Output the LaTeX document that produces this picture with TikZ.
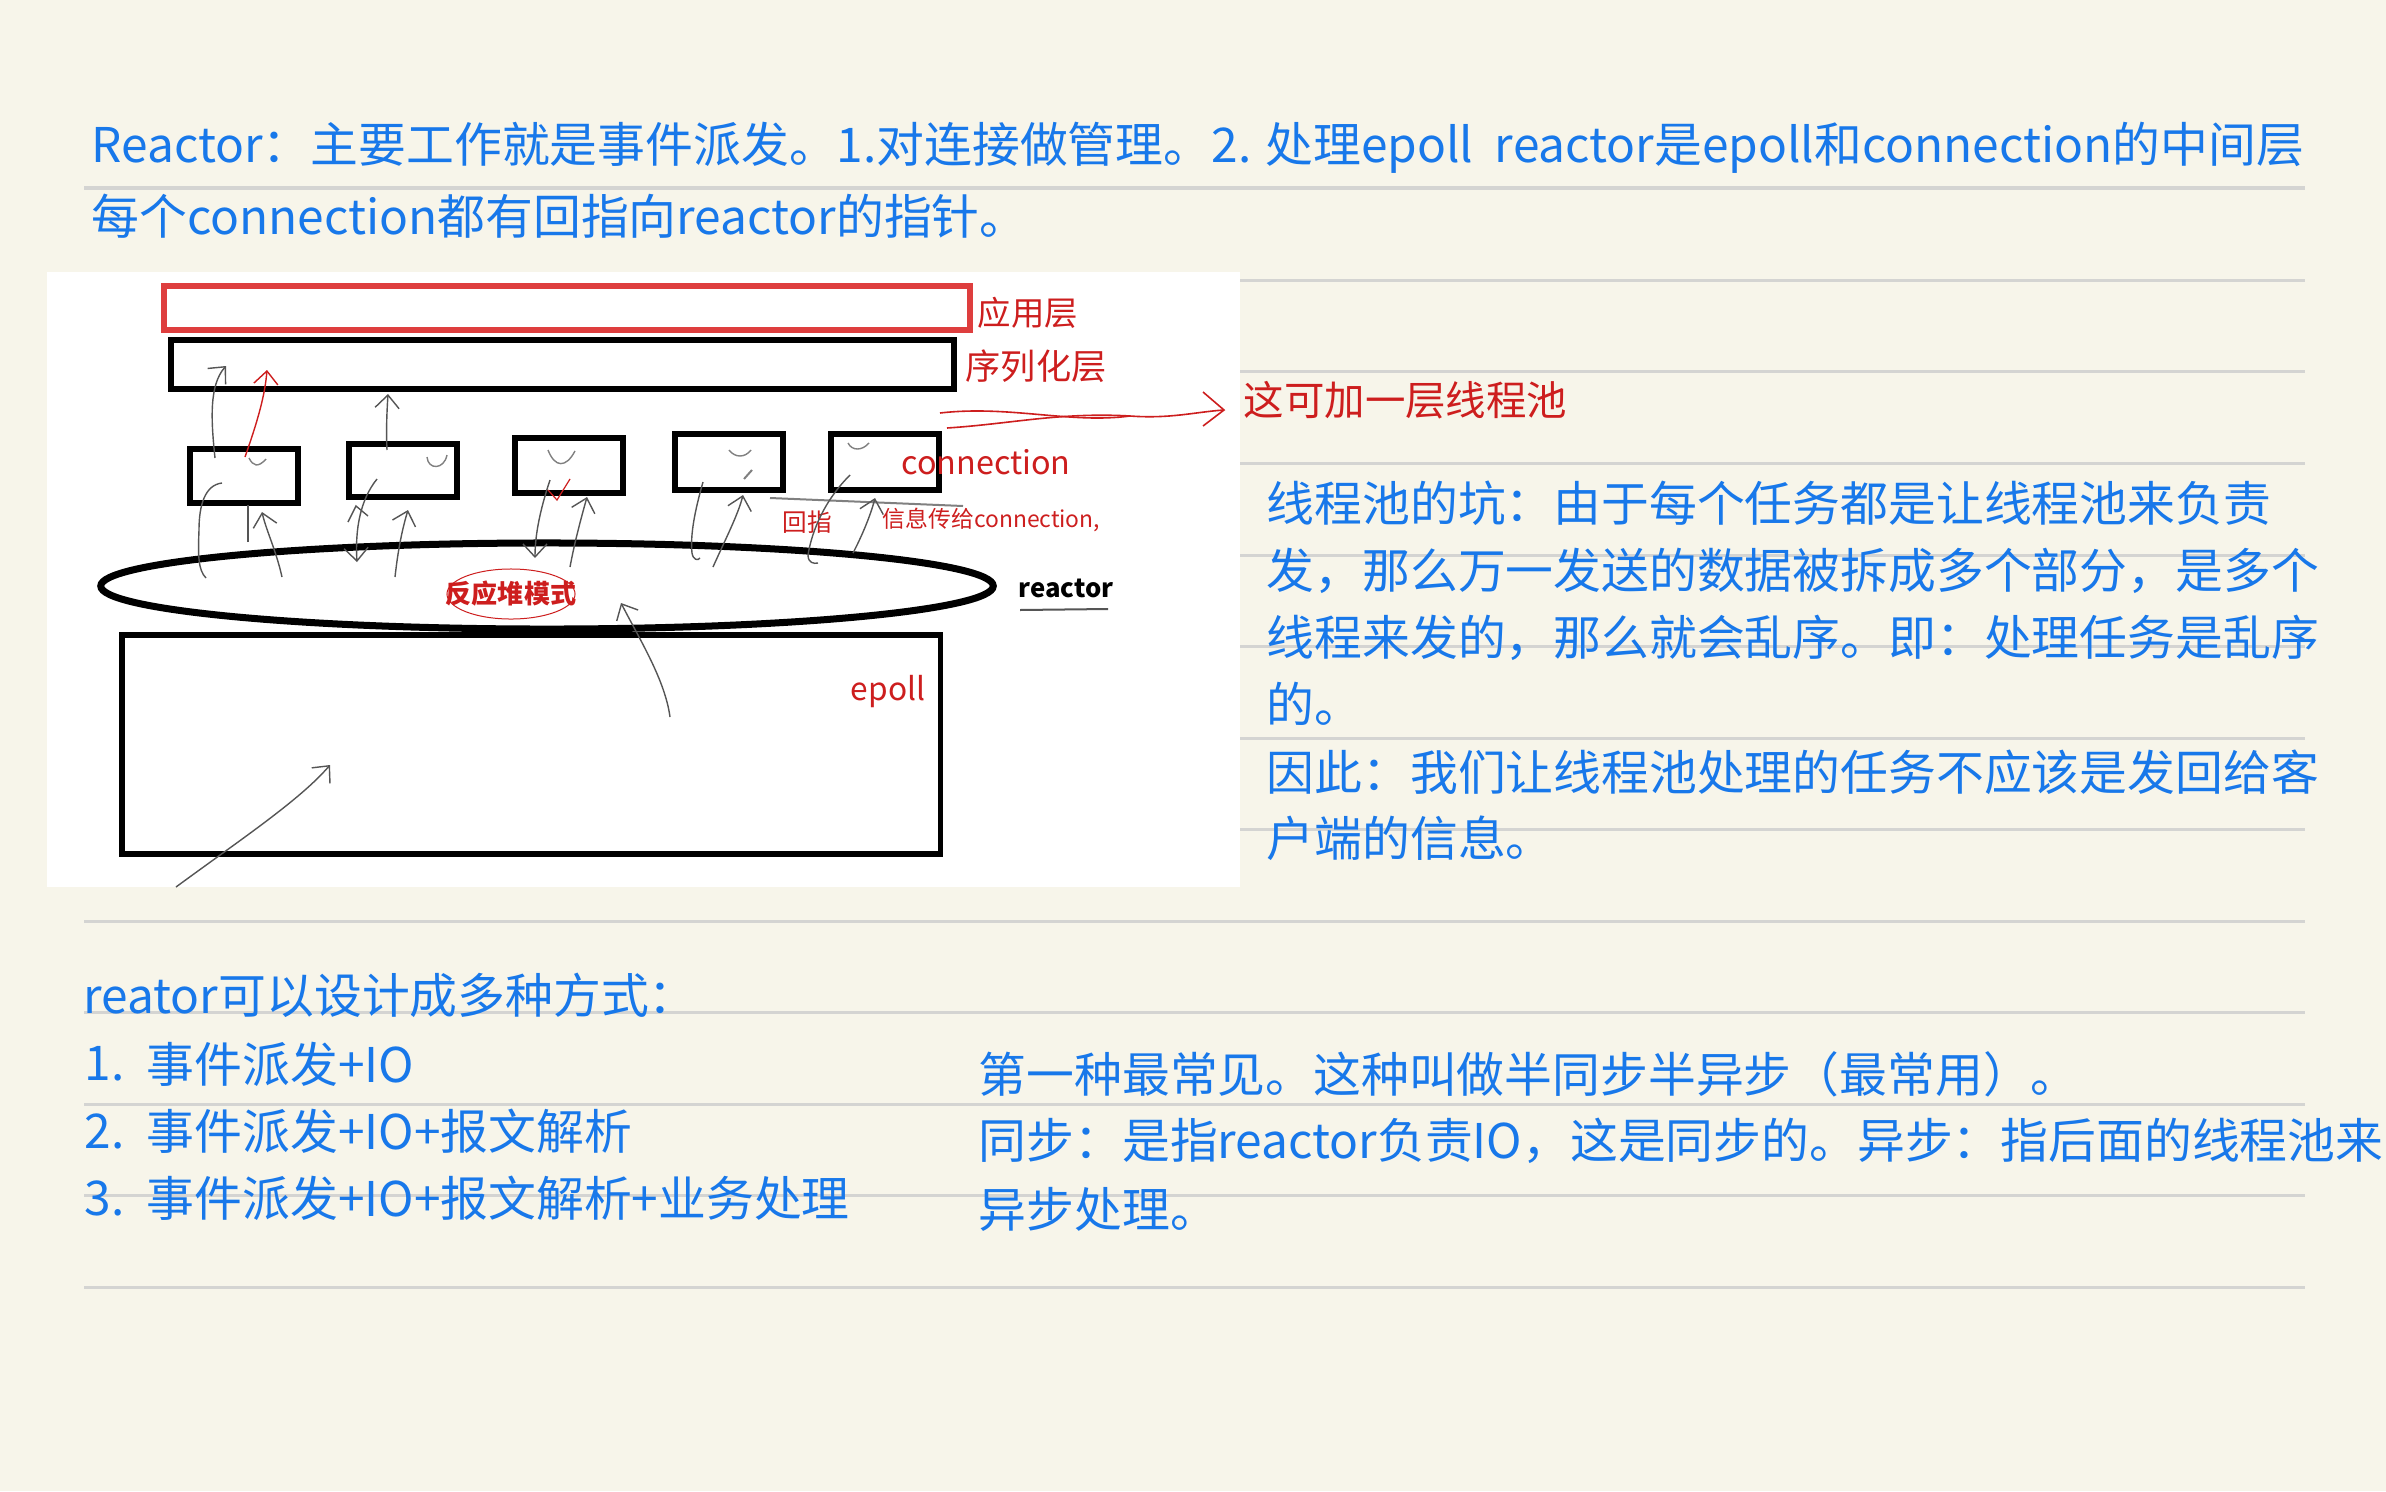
\documentclass[tikz,border=0pt]{standalone}
\usepackage{fontspec}
\setmainfont{Noto Sans CJK SC}
\usetikzlibrary{arrows.meta,shapes.geometric}
\definecolor{bg}{RGB}{247,245,234}
\definecolor{txtblue}{RGB}{24,120,234}
\definecolor{rulegray}{RGB}{212,212,210}
\definecolor{inkred}{RGB}{205,30,30}
\definecolor{boxred}{RGB}{222,62,62}
\definecolor{pencil}{RGB}{85,85,85}
\tikzset{
  bluetext/.style={text=txtblue, anchor=west, inner sep=0pt, font=\fontsize{13.6pt}{16pt}\selectfont},
  ruleline/.style={draw=rulegray, line width=0.03cm},
  layerbox/.style={draw=black, line width=0.055cm, rectangle, inner sep=0pt},
  connbox/.style={draw=black, line width=0.055cm, rectangle, inner sep=0pt, minimum width=1.08cm},
  handtext/.style={text=inkred, inner sep=0pt},
  sketch/.style={draw=pencil, line width=0.014cm},
  sketcharrow/.style={sketch, -{Straight Barb[length=0.13cm,width=0.24cm,line width=0.014cm]}},
  redsketch/.style={draw=inkred, line width=0.014cm, -{Straight Barb[length=0.13cm,width=0.24cm,line width=0.014cm]}},
}
\begin{document}
\begin{tikzpicture}[x=0.01cm,y=-0.01cm]
\useasboundingbox (0,0) rectangle (2386,1491);
\fill[bg] (0,0) rectangle (2386,1491);
% ruled lines
\foreach \yy in {188,280,371.5,463,555,646.5,738,829.5,921,1012.5,1104,1195.5,1287}
  \draw[ruleline] (84,\yy) -- (2305,\yy);
% top text
\node[bluetext] (t1) at (91,148) {Reactor：主要工作就是事件派发。1.对连接做管理。2. 处理epoll\ \ reactor是epoll和connection的中间层};
\node[bluetext] (t2) at (91,216) {每个connection都有回指向reactor的指针。};
% embedded picture background
\fill[white] (47,272) rectangle (1240,887);
% layers
\node[layerbox, draw=boxred, line width=0.06cm, minimum width=8.06cm, minimum height=0.44cm] (app) at (567,308) {};
\node[layerbox, minimum width=7.83cm, minimum height=0.49cm] (ser) at (562.5,364.5) {};
\node[connbox, minimum height=0.54cm] (c1) at (244,476) {};
\node[connbox, minimum height=0.53cm] (c2) at (403,470.5) {};
\node[connbox, minimum height=0.55cm] (c3) at (569,465.5) {};
\node[connbox, minimum height=0.56cm] (c4) at (729,462) {};
\node[connbox, minimum height=0.56cm] (c5) at (885,462) {};
\node[draw=black, line width=0.07cm, ellipse, minimum width=8.92cm, minimum height=0.86cm, inner sep=0pt] (reac) at (547,586) {};
\node[layerbox, minimum width=8.18cm, minimum height=2.19cm] (ep) at (531,744.5) {};
% labels in the sketch
\node[handtext, font=\fontsize{9.5pt}{10pt}\selectfont] (lapp) at (1028,313) {应用层};
\node[handtext, font=\fontsize{10pt}{11pt}\selectfont] (lser) at (1036,366) {序列化层};
\node[handtext, font=\fontsize{9.2pt}{10pt}\selectfont] (lconn) at (986,462) {connection};
\node[handtext, font=\fontsize{7pt}{8pt}\selectfont] (lback) at (807,522) {回指};
\node[handtext, font=\fontsize{6.5pt}{7pt}\selectfont, anchor=west] (linfo) at (882,520) {信息传给connection,};
\node[handtext, font=\fontsize{9pt}{10pt}\selectfont] (lepoll) at (888,692) {epoll};
\node[handtext, font=\fontsize{11.5pt}{12pt}\selectfont, anchor=west] (lpool) at (1243,400) {这可加一层线程池};
\node[text=inkred, inner sep=0pt, font=\fontsize{7.4pt}{8pt}\selectfont\bfseries] (lmode) at (511,594) {反应堆模式};
\draw[inkred, line width=0.01cm] (lmode.center) ellipse [x radius=0.64cm, y radius=0.25cm];
\node[inner sep=0pt, font=\fontsize{7.3pt}{8pt}\selectfont\bfseries] (lreac) at (1066,588) {reactor};
\coordinate (ul1) at (1020,610); \coordinate (ul2) at (1108,609);
\draw[pencil, line width=0.02cm] (ul1) -- (ul2);
% red arrow to thread pool
\coordinate (rs1) at (940,413); \coordinate (rs2) at (947,428);
\coordinate (rm) at (1130,416); \coordinate (rtip) at (1224,410);
\coordinate (rh1) at (1203,392); \coordinate (rh2) at (1203,426);
\draw[inkred, line width=0.016cm] (rs1) .. controls (1010,405) and (1070,424) .. (rm);
\draw[inkred, line width=0.016cm] (rs2) .. controls (1010,424) and (1060,412) .. (rm) .. controls (1170,419) and (1195,412) .. (rtip);
\draw[inkred, line width=0.016cm] (rh1) -- (rtip) -- (rh2);
% gray line under connections
\coordinate (gl1) at (770,498); \coordinate (gl2) at (963,506);
\draw[draw=gray, line width=0.02cm] (gl1) -- (gl2);
% sketch arrows
\coordinate (a1s) at (215,458); \coordinate (a1e) at (226,366);
\draw[sketcharrow] (a1s) .. controls (211,420) and (209,385) .. (a1e);
\coordinate (r1s) at (245,457); \coordinate (r1e) at (267,370);
\draw[redsketch] (r1s) .. controls (258,420) and (265,395) .. (r1e);
\coordinate (a2s) at (387,450); \coordinate (a2e) at (388,394);
\draw[sketcharrow] (a2s) .. controls (386,430) and (387,410) .. (a2e);
\coordinate (a3s) at (222,483); \coordinate (a3e) at (206,578);
\draw[sketch] (a3s) .. controls (205,485) and (199,505) .. (199,530) .. controls (198,555) and (198,570) .. (a3e);
\coordinate (a4s) at (248,542); \coordinate (a4e) at (248,505);
\draw[sketch] (a4s) -- (a4e);
\coordinate (a5s) at (282,577); \coordinate (a5e) at (262,512);
\draw[sketcharrow] (a5s) .. controls (276,550) and (266,530) .. (a5e);
\coordinate (a6s) at (377,479); \coordinate (a6e) at (357,562);
\draw[sketcharrow] (a6s) .. controls (360,500) and (355,530) .. (a6e);
\coordinate (a6m) at (356,506);
\draw[sketch] (348,522) -- (a6m) -- (368,516);
\coordinate (a7s) at (395,577); \coordinate (a7e) at (408,510);
\draw[sketcharrow] (a7s) .. controls (398,550) and (402,530) .. (a7e);
\coordinate (a8s) at (550,480); \coordinate (a8e) at (535,558);
\draw[sketcharrow] (a8s) .. controls (540,510) and (535,535) .. (a8e);
\coordinate (a9s) at (570,567); \coordinate (a9e) at (587,497);
\draw[sketcharrow] (a9s) .. controls (575,540) and (582,515) .. (a9e);
\coordinate (a10s) at (703,482); \coordinate (a10e) at (700,558);
\draw[sketch] (a10s) .. controls (695,510) and (690,535) .. (692,553) .. controls (693,560) and (698,561) .. (a10e);
\coordinate (a11s) at (713,567); \coordinate (a11e) at (743,495);
\draw[sketcharrow] (a11s) .. controls (725,540) and (738,515) .. (a11e);
\coordinate (a12s) at (850,475); \coordinate (a12e) at (818,563);
\draw[sketch] (a12s) .. controls (825,500) and (812,530) .. (808,555) .. controls (808,563) and (814,564) .. (a12e);
\coordinate (a13s) at (853,553); \coordinate (a13e) at (875,498);
\draw[sketcharrow] (a13s) .. controls (865,530) and (872,510) .. (a13e);
\coordinate (a14s) at (670,717); \coordinate (a14e) at (621,603);
\draw[sketcharrow] (a14s) .. controls (665,680) and (640,640) .. (a14e);
\coordinate (a15s) at (176,887); \coordinate (a15e) at (330,765);
\draw[sketcharrow] (a15s) .. controls (240,840) and (300,800) .. (a15e);
% small marks inside connection boxes
\draw[sketch, draw=gray] (249,458) .. controls (253,466) and (258,468) .. (266,459);
\draw[sketch, draw=gray] (427,457) .. controls (428,470) and (444,470) .. (447,455);
\draw[sketch, draw=gray] (548,450) .. controls (555,468) and (566,468) .. (575,451);
\draw[sketch, draw=gray] (729,450) .. controls (735,458) and (745,458) .. (751,450);
\draw[sketch, draw=gray, line width=0.02cm] (744,479) -- (752,470);
\draw[sketch, draw=gray] (848,443) .. controls (852,451) and (862,451) .. (869,443);
\draw[draw=inkred, line width=0.012cm] (548,490) -- (557,500) -- (570,479);
% right paragraph
\node[bluetext] (p1) at (1266,503) {线程池的坑：由于每个任务都是让线程池来负责};
\node[bluetext] (p2) at (1266,571) {发，那么万一发送的数据被拆成多个部分，是多个};
\node[bluetext] (p3) at (1266,638) {线程来发的，那么就会乱序。即：处理任务是乱序};
\node[bluetext] (p4) at (1266,704) {的。};
\node[bluetext] (p5) at (1266,772) {因此：我们让线程池处理的任务不应该是发回给客};
\node[bluetext] (p6) at (1266,838) {户端的信息。};
% bottom left list
\node[bluetext] (b0) at (83,995) {reator可以设计成多种方式：};
\node[bluetext] (n1) at (84,1064) {1.};
\node[bluetext] (b1) at (146,1064) {事件派发+IO};
\node[bluetext] (n2) at (84,1131) {2.};
\node[bluetext] (b2) at (146,1131) {事件派发+IO+报文解析};
\node[bluetext] (n3) at (84,1198) {3.};
\node[bluetext] (b3) at (146,1198) {事件派发+IO+报文解析+业务处理};
% bottom right
\node[bluetext] (s1) at (978,1074) {第一种最常见。这种叫做半同步半异步（最常用）。};
\node[bluetext] (s2) at (978,1141) {同步：是指reactor负责IO，这是同步的。异步：指后面的线程池来};
\node[bluetext] (s3) at (978,1209) {异步处理。};
\end{tikzpicture}
\end{document}
